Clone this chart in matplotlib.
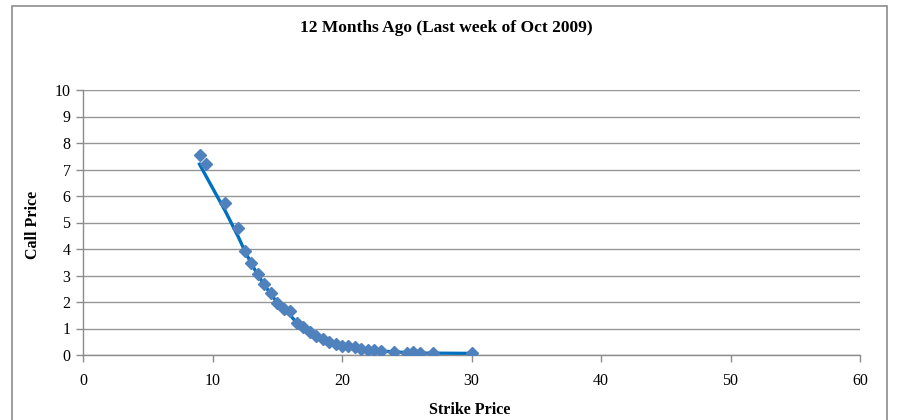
import matplotlib
matplotlib.use("Agg")
import matplotlib.pyplot as plt
from matplotlib.patches import Rectangle

# Option quotes: strike vs. call price
strikes = [9, 9.5, 11, 12, 12.5, 13, 13.5, 14, 14.5, 15, 15.5, 16, 16.5, 17, 17.5,
           18, 18.5, 19, 19.5, 20, 20.5, 21, 21.5, 22, 22.5, 23, 24, 25, 25.5, 26, 27, 30]
call_prices = [7.55, 7.2, 5.75, 4.78, 3.92, 3.48, 3.04, 2.67, 2.33, 1.97, 1.72, 1.67,
               1.2, 1.05, 0.88, 0.73, 0.6, 0.5, 0.42, 0.35, 0.34, 0.3, 0.23, 0.19,
               0.17, 0.15, 0.12, 0.09, 0.1, 0.07, 0.07, 0.06]
# Fitted curve through the quotes
curve_prices = [7.2, 6.75, 5.42, 4.45, 3.92, 3.45, 3.02, 2.65, 2.3, 1.98, 1.7, 1.5,
                1.22, 1.03, 0.88, 0.73, 0.6, 0.5, 0.42, 0.36, 0.32, 0.28, 0.23, 0.19,
                0.17, 0.15, 0.12, 0.09, 0.08, 0.07, 0.07, 0.06]

x_ticks = [0, 10, 20, 30, 40, 50, 60]
y_ticks = list(range(0, 11))

plt.rcParams['font.family'] = ['Liberation Serif', 'DejaVu Serif']

fig = plt.figure(figsize=(8.98, 4.2), dpi=100)
ax = fig.add_axes([83 / 898, 1 - 355 / 420, (860 - 83) / 898, (355 - 90) / 420])

# Chart frame
fig.patches.append(Rectangle((12 / 898, -0.01), (887 - 12) / 898, 1 - 6.5 / 420 + 0.01,
                             transform=fig.transFigure, fill=False,
                             edgecolor='#8c8c8c', linewidth=1.2))

ax.plot(strikes, curve_prices, color='#0070C0', linewidth=2.4, zorder=2)
ax.plot(strikes, call_prices, linestyle='none', marker='D', markersize=6.5,
        color='#4F81BD', markeredgecolor='#4F81BD', zorder=3)

ax.set_xlim(0, 60)
ax.set_ylim(0, 10)
ax.set_xticks(x_ticks)
ax.set_yticks(y_ticks)
ax.grid(axis='y', color='#969696', linewidth=1.0)
ax.set_axisbelow(True)

for s in ('top', 'right'):
    ax.spines[s].set_visible(False)
for s in ('left', 'bottom'):
    ax.spines[s].set_color('#8c8c8c')
    ax.spines[s].set_linewidth(1.0)

ax.tick_params(axis='both', direction='out', length=5, width=1.0, color='#8c8c8c',
               labelsize=11.5, labelcolor='black')
ax.tick_params(axis='x', pad=8)
ax.tick_params(axis='y', pad=4)

fig.text(446 / 898, 1 - 28 / 420, '12 Months Ago (Last week of Oct 2009)',
         ha='center', va='center', fontsize=12.5, fontweight='bold')
fig.text(470 / 898, 1 - 410 / 420, 'Strike Price', ha='center', va='center',
         fontsize=11.5, fontweight='bold')
fig.text(33 / 898, 1 - 225 / 420, 'Call Price', ha='center', va='center',
         rotation=90, fontsize=11.5, fontweight='bold')

fig.savefig('out.png', dpi=100)
